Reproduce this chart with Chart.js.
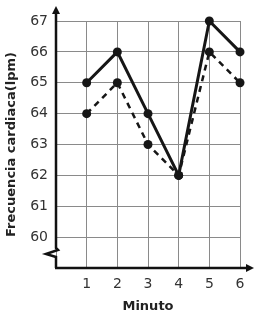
<!DOCTYPE html>
<html>
<head>
<meta charset="utf-8">
<script src="https://cdn.jsdelivr.net/npm/chart.js@4"></script>
<style>
  html, body { margin: 0; padding: 0; background: #fff; }
  #wrap { width: 262px; height: 320px; }
</style>
</head>
<body>
<div id="wrap"><canvas id="chart" width="262" height="320"></canvas></div>
<script>
// data
var minutos = [1, 2, 3, 4, 5, 6];
var serieSolida = [65, 66, 64, 62, 67, 66];
var serieDiscontinua = [64, 65, 63, 62, 66, 65];
var yTicks = [60, 61, 62, 63, 64, 65, 66, 67];

function toPoints(vals) {
  return minutos.map(function (m, i) { return { x: m, y: vals[i] }; });
}

// axis lines with arrows and the break mark on the y axis
var ejes = {
  id: 'ejes',
  afterDraw: function (chart) {
    var ctx = chart.ctx;
    var a = chart.chartArea;
    var x0 = a.left, y0 = a.bottom;
    ctx.save();
    ctx.strokeStyle = '#111';
    ctx.fillStyle = '#111';
    ctx.lineWidth = 2.5;
    ctx.lineJoin = 'miter';
    // y axis with zigzag
    ctx.beginPath();
    ctx.moveTo(x0, y0);
    ctx.lineTo(x0, y0 - 11);
    ctx.lineTo(x0 - 10, y0 - 14);
    ctx.lineTo(x0 + 2, y0 - 18);
    ctx.lineTo(x0, y0 - 20);
    ctx.lineTo(x0, 12);
    ctx.stroke();
    // x axis
    ctx.beginPath();
    ctx.moveTo(x0 - 1, y0);
    ctx.lineTo(a.right + 8, y0);
    ctx.stroke();
    // arrow heads
    ctx.beginPath();
    ctx.moveTo(x0, 6);
    ctx.lineTo(x0 - 4, 14);
    ctx.lineTo(x0 + 4, 14);
    ctx.closePath();
    ctx.fill();
    ctx.beginPath();
    ctx.moveTo(a.right + 14, y0);
    ctx.lineTo(a.right + 6, y0 - 4);
    ctx.lineTo(a.right + 6, y0 + 4);
    ctx.closePath();
    ctx.fill();
    ctx.restore();
  }
};

var ctx = document.getElementById('chart').getContext('2d');
new Chart(ctx, {
  type: 'line',
  data: {
    datasets: [{
      data: toPoints(serieSolida),
      borderColor: '#161616',
      backgroundColor: '#161616',
      borderWidth: 3,
      pointRadius: 4.5,
      pointBorderWidth: 0,
      tension: 0,
      clip: false
    }, {
      data: toPoints(serieDiscontinua),
      borderColor: '#161616',
      backgroundColor: '#161616',
      borderWidth: 2.5,
      borderDash: [6, 5],
      pointRadius: 4.5,
      pointBorderWidth: 0,
      tension: 0,
      clip: false
    }]
  },
  options: {
    responsive: false,
    animation: false,
    events: [],
    layout: { padding: { left: 0, top: 21, right: 22, bottom: 0 } },
    plugins: { legend: { display: false }, tooltip: { enabled: false } },
    scales: {
      x: {
        type: 'linear',
        min: 0,
        max: 6,
        afterFit: function (s) { s.height = 52; },
        afterBuildTicks: function (s) {
          s.ticks = [0].concat(minutos).map(function (v) { return { value: v }; });
        },
        border: { display: false },
        grid: { color: '#8a8a8a', lineWidth: 1, drawTicks: false },
        ticks: {
          padding: 8,
          color: '#333',
          font: { family: 'DejaVu Sans', size: 14 },
          callback: function (v) { return v === 0 ? '' : v; }
        },
        title: {
          display: true,
          text: 'Minuto',
          color: '#222',
          font: { family: 'DejaVu Sans', size: 13, weight: 'bold' },
          padding: { top: 0, bottom: 6 }
        }
      },
      y: {
        min: 59,
        max: 67,
        afterFit: function (s) { s.width = 56; },
        afterBuildTicks: function (s) {
          s.ticks = [59].concat(yTicks).map(function (v) { return { value: v }; });
        },
        border: { display: false },
        grid: { color: '#8a8a8a', lineWidth: 1, drawTicks: false },
        ticks: {
          padding: 8,
          color: '#333',
          font: { family: 'DejaVu Sans', size: 14 },
          callback: function (v) { return v === 59 ? '' : v; }
        },
        title: {
          display: true,
          text: 'Frecuencia cardiaca(lpm)',
          color: '#222',
          font: { family: 'DejaVu Sans', size: 13, weight: 'bold' }
        }
      }
    }
  },
  plugins: [ejes]
});
</script>
</body>
</html>
